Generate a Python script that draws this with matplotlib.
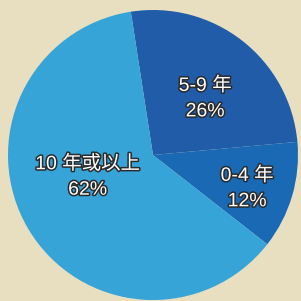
import matplotlib
matplotlib.use("Agg")
import matplotlib.pyplot as plt
import matplotlib.patheffects as pe

plt.rcParams["font.family"] = ["Liberation Sans", "Noto Sans CJK TC", "DejaVu Sans"]

# data (clockwise from just left of 12 o'clock)
categories = ["5-9 年", "0-4 年", "10 年或以上"]
shares = [26, 12, 62]
colors = ["#205ca8", "#1a69b5", "#36a4d7"]

# label centres in pie coordinates (radius 1)
label_pos = [(0.36, 0.39), (0.65, -0.23), (-0.45, -0.15)]

fig = plt.figure(figsize=(3.01, 3.01), dpi=100)
fig.patch.set_facecolor("#e8dfc1")
ax = fig.add_axes([8 / 301, 1 / 301, 290 / 301, 290 / 301])
ax.set_facecolor("none")

ax.pie(shares, colors=colors, startangle=98.8, counterclock=False,
       radius=1.0, wedgeprops=dict(linewidth=0))

for name, val, (x, y) in zip(categories, shares, label_pos):
    ax.text(x, y, f"{name}\n{val}%", ha="center", va="center",
            fontsize=14, color="white", linespacing=1.65,
            path_effects=[pe.withStroke(linewidth=2.2, foreground="#2b2b2b")])

ax.set_xlim(-1, 1)
ax.set_ylim(-1, 1)
ax.set_aspect("equal")
ax.axis("off")

fig.savefig("out.png", dpi=100, facecolor=fig.get_facecolor())
